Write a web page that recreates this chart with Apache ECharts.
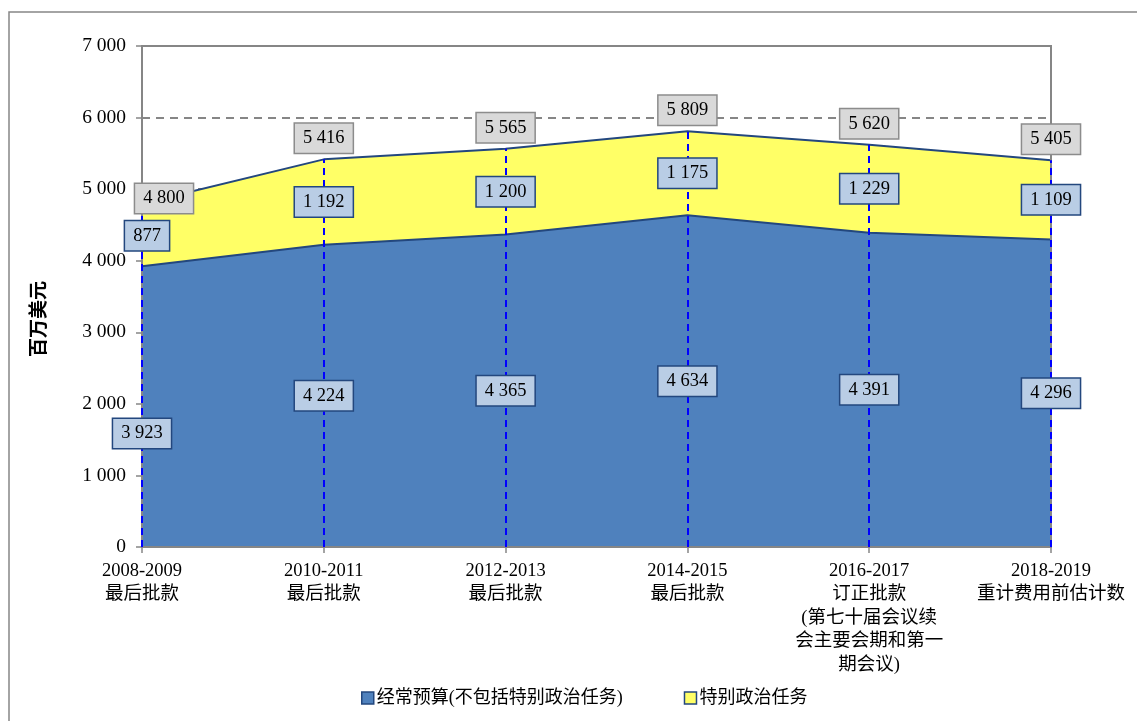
<!DOCTYPE html>
<html>
<head>
<meta charset="utf-8">
<script src="https://cdn.jsdelivr.net/npm/echarts@6/dist/echarts.min.js"></script>
<style>
html,body{margin:0;padding:0;background:#fff;}
#c{width:1137px;height:721px;}
</style>
</head>
<body>
<div id="c"></div>
<script>
const categories = [
  '2008-2009\n最后批款',
  '2010-2011\n最后批款',
  '2012-2013\n最后批款',
  '2014-2015\n最后批款',
  '2016-2017\n订正批款\n(第七十届会议续\n会主要会期和第一\n期会议)',
  '2018-2019\n重计费用前估计数'
];
const regularBudget = [3923, 4224, 4365, 4634, 4391, 4296];
const specialMissions = [877, 1192, 1200, 1175, 1229, 1109];
const totals = [4800, 5416, 5565, 5809, 5620, 5405];
const seriesNames = ['经常预算(不包括特别政治任务)', '特别政治任务'];
const yTicks = [0, 1000, 2000, 3000, 4000, 5000, 6000, 7000];

const FONT = '"Liberation Serif", "Noto Sans CJK SC", serif';
const fmt = v => String(v).replace(/\B(?=(\d{3})+(?!\d))/g, ' ');
const GRAY = '#868686';
const DARK = '#23477e';

const blueBox = {
  show: true, position: 'inside', color: '#000', fontFamily: FONT, fontSize: 18.5, opacity: 1,
  backgroundColor: '#b9cde5', borderColor: DARK, borderWidth: 1.5,
  padding: [5, 8, 4, 8], lineHeight: 20
};
const grayBox = Object.assign({}, blueBox, {backgroundColor: '#d9d9d9', borderColor: '#8c8c8c'});

const regularMid = regularBudget.map((v, i) => {
  const item = {value: [i, v / 2]};
  if (i === 0) item.label = {offset: [0, 27]};
  return item;
});
const specialMid = specialMissions.map((v, i) => {
  const item = {value: [i, regularBudget[i] + v / 2]};
  if (i === 0) item.label = {offset: [5, 1]};
  return item;
});
const totalPts = totals.map((v, i) => {
  const item = {value: [i, v]};
  if (i === 0) item.label = {offset: [22, -5]};
  return item;
});

const hiddenSym = {color: 'rgba(0,0,0,0)', opacity: 1};

const chart = echarts.init(document.getElementById('c'), null, {renderer: 'canvas'});
chart.setOption({
  animation: false,
  textStyle: {fontFamily: FONT},
  grid: {left: 142, right: 86, top: 46, bottom: 174, show: true, borderColor: GRAY, borderWidth: 2, backgroundColor: 'transparent'},
  graphic: [
    {type: 'rect', shape: {x: 9, y: 12, width: 1400, height: 900}, style: {fill: 'none', stroke: GRAY, lineWidth: 1.5}, silent: true, z: -10},
    {type: 'text', x: 38, y: 319, rotation: Math.PI / 2,
     style: {text: '百万美元', font: 'bold 19px "Noto Sans CJK SC"', fontSize: 19, fontWeight: 'bold', fontFamily: '"Noto Sans CJK SC"', fill: '#000',
             textAlign: 'center', textVerticalAlign: 'middle', align: 'center', verticalAlign: 'middle'}}
  ],
  legend: {
    left: 356, top: 684, itemWidth: 12, itemHeight: 12, itemGap: 61, icon: 'rect',
    textStyle: {fontFamily: FONT, fontSize: 18, color: '#000', padding: [0, 0, 0, -2]},
    data: [
      {name: seriesNames[0], itemStyle: {color: '#4f81bd', borderColor: DARK, borderWidth: 1.5}},
      {name: seriesNames[1], itemStyle: {color: '#ffff66', borderColor: DARK, borderWidth: 1.5}}
    ]
  },
  xAxis: {
    type: 'category', data: categories, boundaryGap: false, z: 3,
    axisLine: {lineStyle: {color: GRAY, width: 2}},
    axisTick: {show: true, length: 6, lineStyle: {color: GRAY, width: 1.5}},
    axisLabel: {fontFamily: FONT, fontSize: 18.5, color: '#000', lineHeight: 23.5, margin: 12, interval: 0}
  },
  yAxis: [
    {
      type: 'value', min: 0, max: 7000, interval: 1000,
      axisLine: {show: true, lineStyle: {color: GRAY, width: 2}},
      axisTick: {show: true, length: 6, lineStyle: {color: GRAY, width: 1.5}},
      axisLabel: {fontFamily: FONT, fontSize: 19.5, color: '#000', margin: 16, formatter: v => fmt(v)},
      splitLine: {show: true, lineStyle: {color: GRAY, width: 2, type: [8, 6]}}
    },
    {
      type: 'value', min: 0, max: 7000, interval: 1000, position: 'left', z: 3,
      axisLine: {show: true, onZero: false, lineStyle: {color: GRAY, width: 2}},
      axisTick: {show: false}, axisLabel: {show: false}, splitLine: {show: false}
    },
    {
      type: 'value', min: 0, max: 7000, interval: 1000, position: 'right', z: 3,
      axisLine: {show: true, onZero: false, lineStyle: {color: GRAY, width: 2}},
      axisTick: {show: false}, axisLabel: {show: false}, splitLine: {show: false}
    }
  ],
  series: [
    {
      name: seriesNames[0], type: 'line', stack: 'total', data: regularBudget, symbol: 'none',
      lineStyle: {color: DARK, width: 2}, itemStyle: {color: '#4f81bd'},
      areaStyle: {color: '#4f81bd', opacity: 1}, z: 2, silent: true
    },
    {
      name: seriesNames[1], type: 'line', stack: 'total', data: specialMissions, symbol: 'none',
      lineStyle: {color: DARK, width: 2}, itemStyle: {color: '#ffff66'},
      areaStyle: {color: '#ffff66', opacity: 1}, z: 2, silent: true
    },
    {
      name: 'drop', type: 'line', data: [], z: 4, silent: true,
      markLine: {
        silent: true, symbol: 'none', label: {show: false},
        lineStyle: {color: '#0000ff', width: 2, type: [7, 5], opacity: 1},
        data: totals.map((v, i) => [{coord: [i, 0]}, {coord: [i, v]}])
      }
    },
    {
      name: 'regMid', type: 'scatter', data: regularMid, symbolSize: 1, z: 6, silent: true,
      itemStyle: hiddenSym,
      label: Object.assign({}, blueBox, {formatter: p => fmt(regularBudget[p.dataIndex])})
    },
    {
      name: 'spMid', type: 'scatter', data: specialMid, symbolSize: 1, z: 6, silent: true,
      itemStyle: hiddenSym,
      label: Object.assign({}, blueBox, {formatter: p => fmt(specialMissions[p.dataIndex])})
    },
    {
      name: 'tot', type: 'scatter', data: totalPts, symbolSize: 1, z: 6, silent: true,
      itemStyle: hiddenSym,
      label: Object.assign({}, grayBox, {offset: [0, -21], formatter: p => fmt(totals[p.dataIndex])})
    }
  ]
});
</script>
</body>
</html>
